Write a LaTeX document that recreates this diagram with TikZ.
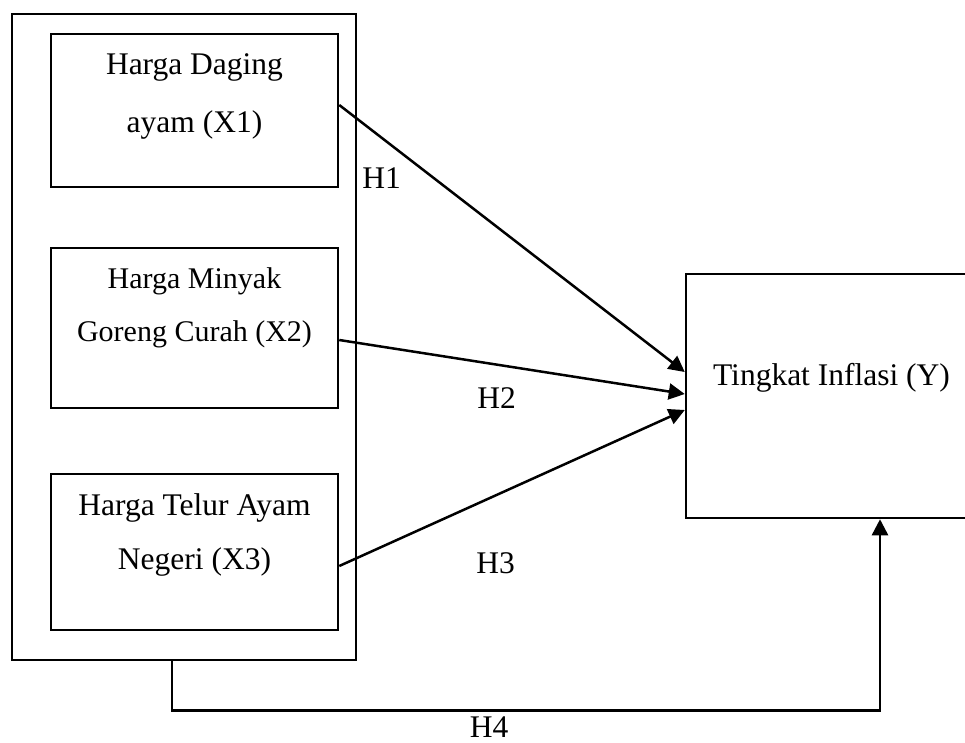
\documentclass[tikz,border=0pt]{standalone}
\usepackage{fontspec}
\setmainfont{Liberation Serif}
\usetikzlibrary{positioning,arrows.meta}

\begin{document}
\begin{tikzpicture}[
  x=1pt, y=-1pt,
  line width=2.5pt,
  >={Triangle[length=16pt,width=16pt]},
  var/.style={draw, minimum width=287pt, inner sep=0pt},
  txt/.style={align=center, inner sep=0pt, font=\fontsize{31.5}{58}\selectfont},
  hyp/.style={anchor=base, inner sep=0pt, font=\fontsize{31.5}{38}\selectfont},
]
\useasboundingbox (0,0) rectangle (965,742);
\node[draw, inner sep=0pt, minimum width=344pt, minimum height=646pt] (grup) at (184,337) {};
\node[var, minimum height=153pt] (x1) at (194.5,110.5) {};
\node[var, minimum height=160pt] (x2) at (194.5,328) {};
\node[var, minimum height=156pt] (x3) at (194.5,552) {};
\node[draw, inner sep=0pt, minimum width=291pt, minimum height=244pt] (y) at (831.5,396) {};
\node[txt, below=20pt of x1.north] (t1) {Harga Daging\\ayam (X1)};
\node[txt, font=\fontsize{30}{53}\selectfont, below=20pt of x2.north] (t2) {Harga Minyak\\Goreng Curah (X2)};
\node[txt, font=\fontsize{31.5}{54}\selectfont, below=20pt of x3.north] (t3) {Harga Telur Ayam\\Negeri (X3)};
\node[txt, below=89pt of y.north] (ty) {Tingkat Inflasi (Y)};
\draw[->] ([yshift=5.5pt]x1.east) -- ([yshift=24pt]y.west);
\draw[->] ([yshift=-12pt]x2.east) -- ([yshift=2pt]y.west);
\draw[->] ([yshift=-14pt]x3.east) -- ([yshift=-14pt]y.west);
\draw[->] ([xshift=-12pt]grup.south) -- ++(0,49) -| ([xshift=48.5pt]y.south);
\node[hyp] (h1) at (381.5,188) {H1};
\node[hyp] (h2) at (496.5,408) {H2};
\node[hyp] (h3) at (495.5,573) {H3};
\node[hyp] (h4) at (489,737) {H4};
\end{tikzpicture}
\end{document}
